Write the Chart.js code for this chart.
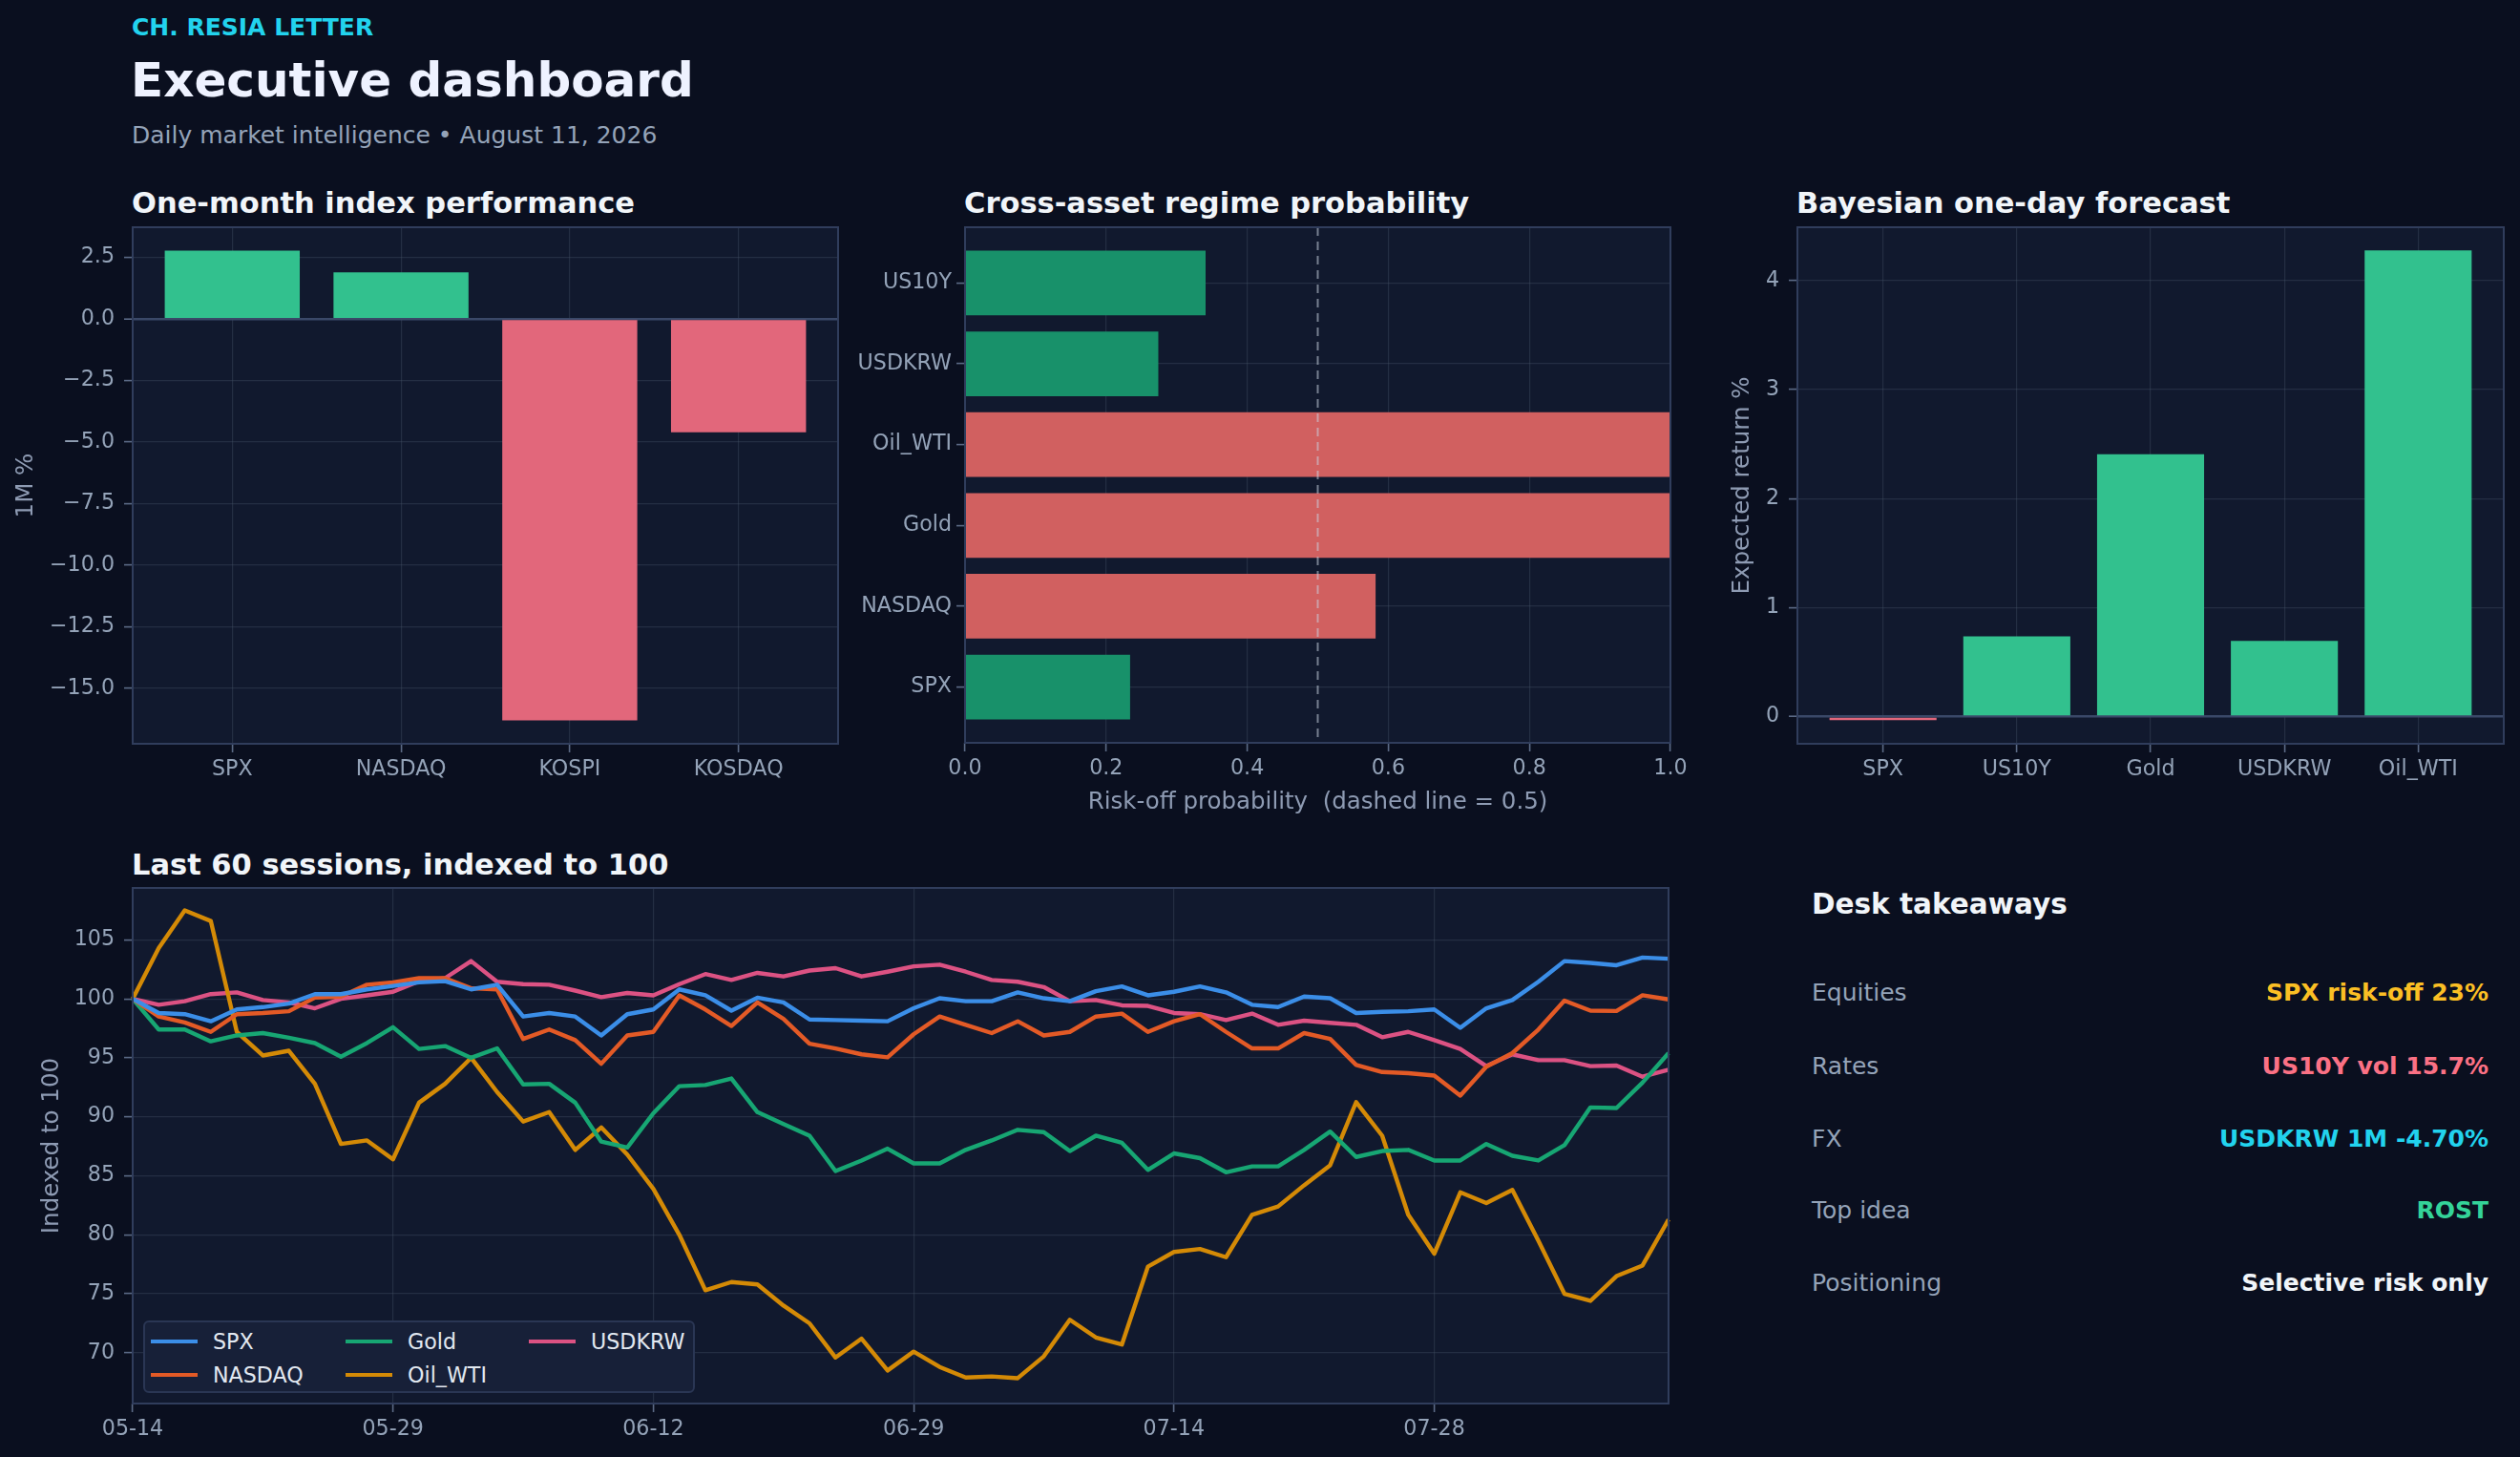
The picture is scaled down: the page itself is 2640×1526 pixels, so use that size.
<!DOCTYPE html>
<html>
<head>
<meta charset="utf-8">
<title>Executive dashboard</title>
<script src="https://cdn.jsdelivr.net/npm/chart.js@4.4.1/dist/chart.umd.min.js"></script>
<style>
  html, body { margin: 0; padding: 0; background: #0a0f1f; }
  body { width: 2640px; height: 1526px; position: relative; overflow: hidden; font-family: "DejaVu Sans", sans-serif; }
  .txt { position: absolute; white-space: nowrap; line-height: 1; }
  .box { position: absolute; }
  .kicker { left: 138px; top: 16px; font-size: 25px; font-weight: bold; color: #22d3ee; }
  .h1 { left: 137px; top: 59px; font-size: 50px; font-weight: bold; color: #eef2ff; }
  .sub { left: 138px; top: 129px; font-size: 25px; color: #94a3b8; }
  .ctitle { font-size: 30.5px; font-weight: bold; color: #f1f5f9; }
  .dtitle { left: 1898px; top: 933px; font-size: 29.5px; font-weight: bold; color: #f1f5f9; }
  .rlabel { left: 1898px; font-size: 25px; color: #94a3b8; }
  .rvalue { right: 33px; font-size: 25px; font-weight: bold; }
  #legend { position: absolute; left: 150px; top: 1383px; width: 574px; height: 72px;
            background: #172038; border: 2px solid #2a3654; border-radius: 6px; }
  .li { position: absolute; height: 26px; font-size: 22.2px; color: #e2e8f0; line-height: 26px; }
  .li span.sw { position: absolute; left: 0; top: 11px; width: 49px; height: 4px; }
  .li span.tx { position: absolute; left: 65px; top: 0; white-space: nowrap; }
</style>
</head>
<body>

<div class="txt kicker">CH. RESIA LETTER</div>
<div class="txt h1">Executive dashboard</div>
<div class="txt sub">Daily market intelligence • August 11, 2026</div>

<div class="txt ctitle" style="left:138px;top:198px;">One-month index performance</div>
<div class="txt ctitle" style="left:1010px;top:198px;">Cross-asset regime probability</div>
<div class="txt ctitle" style="left:1882px;top:198px;">Bayesian one-day forecast</div>
<div class="txt ctitle" style="left:138px;top:891px;">Last 60 sessions, indexed to 100</div>

<div class="box" style="left:0px;top:228px;width:898px;height:611px;"><canvas id="perf"></canvas></div>
<div class="box" style="left:880px;top:228px;width:894px;height:627px;"><canvas id="regime"></canvas></div>
<div class="box" style="left:1790px;top:228px;width:845px;height:611px;"><canvas id="forecast"></canvas></div>
<div class="box" style="left:0px;top:920px;width:1772px;height:606px;"><canvas id="history"></canvas></div>
<div id="legend"></div>

<div class="txt dtitle">Desk takeaways</div>
<div id="takeaways"></div>

<script>
// ---- data ----
var perfAssets = ["SPX", "NASDAQ", "KOSPI", "KOSDAQ"];
var perfValues = [2.78, 1.90, -16.31, -4.60];

var regimeAssets = ["SPX", "NASDAQ", "Gold", "Oil_WTI", "USDKRW", "US10Y"];
var regimeProb = [0.234, 0.582, 1.0, 1.0, 0.274, 0.341];

var forecastAssets = ["SPX", "US10Y", "Gold", "USDKRW", "Oil_WTI"];
var forecastValues = [-0.034, 0.736, 2.406, 0.694, 4.278];

var sessionDates = [
  "05-14","05-15","05-18","05-19","05-20","05-21","05-22","05-26","05-27","05-28",
  "05-29","06-01","06-02","06-03","06-04","06-05","06-08","06-09","06-10","06-11",
  "06-12","06-15","06-16","06-17","06-18","06-22","06-23","06-24","06-25","06-26",
  "06-29","06-30","07-01","07-02","07-06","07-07","07-08","07-09","07-10","07-13",
  "07-14","07-15","07-16","07-17","07-20","07-21","07-22","07-23","07-24","07-27",
  "07-28","07-29","07-30","07-31","08-03","08-04","08-05","08-06","08-07","08-10"
];

var spxIdx = [
  100.0, 98.8, 98.7, 98.1, 99.1, 99.3, 99.6, 100.4, 100.4, 100.8,
  101.1, 101.4, 101.5, 100.8, 101.2, 98.5, 98.8, 98.5, 96.9, 98.7,
  99.1, 100.8, 100.3, 99.0, 100.1, 99.7, 98.25, 98.2, 98.15, 98.1,
  99.2, 100.05, 99.8, 99.8, 100.55, 100.05, 99.8, 100.65, 101.05, 100.3,
  100.6, 101.05, 100.55, 99.5, 99.3, 100.2, 100.05, 98.8, 98.9, 98.95,
  99.1, 97.55, 99.2, 99.9, 101.45, 103.2, 103.05, 102.85, 103.5, 103.4
];
var nasdaqIdx = [
  100.0, 98.5, 98.0, 97.2, 98.7, 98.8, 98.95, 100.1, 100.2, 101.2,
  101.4, 101.75, 101.75, 100.9, 100.8, 96.6, 97.4, 96.5, 94.5, 96.9,
  97.2, 100.3, 99.1, 97.7, 99.7, 98.3, 96.2, 95.8, 95.3, 95.05,
  97.0, 98.5, 97.8, 97.1, 98.1, 96.9, 97.2, 98.5, 98.75, 97.2,
  98.1, 98.7, 97.2, 95.8, 95.8, 97.1, 96.6, 94.4, 93.8, 93.7,
  93.5, 91.8, 94.25, 95.4, 97.4, 99.85, 99.0, 98.97, 100.3, 99.95
];
var goldIdx = [
  100.0, 97.4, 97.4, 96.4, 96.9, 97.1, 96.7, 96.25, 95.1, 96.25,
  97.6, 95.75, 96.0, 95.0, 95.8, 92.75, 92.8, 91.2, 87.9, 87.4,
  90.3, 92.6, 92.7, 93.25, 90.4, 89.4, 88.4, 85.4, 86.3, 87.3,
  86.05, 86.05, 87.2, 88.0, 88.9, 88.7, 87.1, 88.4, 87.8, 85.5,
  86.9, 86.5, 85.3, 85.8, 85.8, 87.2, 88.75, 86.6, 87.1, 87.2,
  86.3, 86.3, 87.7, 86.7, 86.3, 87.6, 90.8, 90.75, 92.9, 95.4
];
var oilIdx = [
  100.0, 104.3, 107.5, 106.6, 97.2, 95.2, 95.6, 92.8, 87.7, 88.0,
  86.4, 91.2, 92.8, 95.0, 92.1, 89.6, 90.4, 87.2, 89.1, 86.8,
  83.9, 80.0, 75.3, 76.0, 75.8, 74.0, 72.5, 69.6, 71.2, 68.5,
  70.1, 68.8, 67.9, 68.0, 67.85, 69.7, 72.8, 71.3, 70.7, 77.3,
  78.55, 78.8, 78.1, 81.7, 82.4, 84.2, 85.9, 91.25, 88.4, 81.7,
  78.4, 83.6, 82.7, 83.8, 79.5, 75.0, 74.4, 76.5, 77.4, 81.3
];
var usdkrwIdx = [
  100.0, 99.5, 99.8, 100.4, 100.55, 99.9, 99.7, 99.2, 100.0, 100.3,
  100.6, 101.5, 101.75, 103.2, 101.45, 101.25, 101.2, 100.7, 100.15, 100.5,
  100.3, 101.25, 102.1, 101.6, 102.2, 101.9, 102.4, 102.6, 101.9, 102.3,
  102.75, 102.9, 102.3, 101.6, 101.45, 101.0, 99.8, 99.9, 99.45, 99.4,
  98.8, 98.7, 98.2, 98.75, 97.8, 98.15, 97.97, 97.8, 96.75, 97.2,
  96.5, 95.75, 94.3, 95.3, 94.8, 94.8, 94.3, 94.35, 93.4, 94.0
];

var takeawayLabels = ["Equities", "Rates", "FX", "Top idea", "Positioning"];
var takeawayValues = ["SPX risk-off 23%", "US10Y vol 15.7%", "USDKRW 1M -4.70%", "ROST", "Selective risk only"];

// ---- styles ----
var PLOT_BG = "#11192e";
var FRAME = "#303d5c";
var GRID = "rgba(71,85,105,0.35)";
var ZERO = "#3a4868";
var TICK = "#5b6a86";
var TICK_TXT = "#94a3b8";
var AXIS_TXT = "#8e9bb3";
var UP = "#32c18e", DOWN = "#e2677b";
var CALM = "#18916a", STRESS = "#d16060";
var lineColors = ["#3b8ee8", "#e35a26", "#17a673", "#d48a06", "#dc5283"];
var takeawayColors = ["#fbbf24", "#fb7185", "#22d3ee", "#34d399", "#f1f5f9"];

Chart.defaults.font.family = "DejaVu Sans";
Chart.defaults.color = TICK_TXT;
Chart.defaults.animation = false;
Chart.defaults.devicePixelRatio = 1;

var tickFont = { family: "DejaVu Sans", size: 22.2 };
var titleFont = { family: "DejaVu Sans", size: 24.5 };

var framePlugin = {
  id: "frame",
  beforeDraw: function (chart) {
    var a = chart.chartArea, c = chart.ctx;
    c.save();
    c.fillStyle = PLOT_BG;
    c.fillRect(a.left, a.top, a.right - a.left, a.bottom - a.top);
    c.restore();
  },
  afterDraw: function (chart) {
    var a = chart.chartArea, c = chart.ctx;
    c.save();
    c.strokeStyle = FRAME;
    c.lineWidth = 2;
    c.strokeRect(a.left, a.top, a.right - a.left, a.bottom - a.top);
    c.restore();
  }
};

var halfLine = {
  id: "halfLine",
  afterDatasetsDraw: function (chart) {
    var a = chart.chartArea, c = chart.ctx;
    var x = chart.scales.x.getPixelForValue(0.5);
    c.save();
    c.strokeStyle = "rgba(203,213,225,0.55)";
    c.lineWidth = 2;
    c.setLineDash([9, 6]);
    c.beginPath();
    c.moveTo(x, a.top);
    c.lineTo(x, a.bottom);
    c.stroke();
    c.restore();
  }
};

function fixSize(size) {
  return function (s) {
    if (s.isHorizontal()) s.height = size; else s.width = size;
    s.paddingLeft = 0; s.paddingRight = 0; s.paddingTop = 0; s.paddingBottom = 0;
  };
}

function isZero(ctx) { return ctx.tick && Math.abs(ctx.tick.value) < 1e-9; }

function gridOpts(zeroLine) {
  return {
    offset: false,
    color: function (ctx) { return zeroLine && isZero(ctx) ? ZERO : GRID; },
    lineWidth: function (ctx) { return zeroLine && isZero(ctx) ? 2.4 : 1.2; },
    tickColor: TICK,
    tickWidth: 1.6,
    tickLength: 9,
    drawTicks: true
  };
}

function minus(s) { return s.charAt(0) === "-" ? "\u2212" + s.slice(1) : s; }

function categoryTicks(names) {
  return {
    stepSize: 1, includeBounds: false, autoSkip: false, maxRotation: 0,
    font: tickFont, color: TICK_TXT, padding: 5,
    callback: function (v) { return names[v] !== undefined ? names[v] : ""; }
  };
}

// ---- chart 1: one-month performance ----
new Chart(document.getElementById("perf"), {
  type: "bar",
  data: {
    datasets: [{
      data: perfValues.map(function (v, i) { return { x: i, y: v }; }),
      backgroundColor: perfValues.map(function (v) { return v >= 0 ? UP : DOWN; }),
      barPercentage: 0.8, categoryPercentage: 1.0, borderWidth: 0
    }]
  },
  options: {
    responsive: true, maintainAspectRatio: false,
    layout: { padding: { top: 10, right: 20, left: 0, bottom: 0 } },
    plugins: { legend: { display: false }, tooltip: { enabled: false } },
    scales: {
      x: {
        type: "linear", min: -0.59, max: 3.59, z: 1, offset: false,
        grid: gridOpts(false), border: { display: false },
        ticks: categoryTicks(perfAssets),
        afterFit: fixSize(60)
      },
      y: {
        type: "linear", min: -17.26, max: 3.73, z: 1,
        grid: gridOpts(true), border: { display: false },
        ticks: { stepSize: 2.5, includeBounds: false, font: tickFont, color: TICK_TXT, padding: 10,
                 callback: function (v) { return minus(v.toFixed(1)); } },
        title: { display: true, text: "1M %", color: AXIS_TXT, font: titleFont, padding: { top: 13, bottom: 0 } },
        afterFit: fixSize(139)
      }
    }
  },
  plugins: [framePlugin]
});

// ---- chart 2: regime probability ----
new Chart(document.getElementById("regime"), {
  type: "bar",
  data: {
    datasets: [{
      data: regimeProb.map(function (p, i) { return { x: p, y: i }; }),
      backgroundColor: regimeProb.map(function (p) { return p > 0.5 ? STRESS : CALM; }),
      barPercentage: 0.8, categoryPercentage: 1.0, borderWidth: 0
    }]
  },
  options: {
    indexAxis: "y",
    responsive: true, maintainAspectRatio: false,
    layout: { padding: { top: 10, right: 24, left: 0, bottom: 0 } },
    plugins: { legend: { display: false }, tooltip: { enabled: false } },
    scales: {
      x: {
        type: "linear", min: 0, max: 1, z: 1, offset: false,
        grid: gridOpts(false), border: { display: false },
        ticks: { stepSize: 0.2, font: tickFont, color: TICK_TXT, padding: 5, maxRotation: 0,
                 callback: function (v) { return v.toFixed(1); } },
        title: { display: true, text: "Risk-off probability  (dashed line = 0.5)", color: AXIS_TXT,
                 font: titleFont, padding: { top: 0, bottom: 0 } },
        afterFit: fixSize(77)
      },
      y: {
        type: "linear", min: -0.69, max: 5.69, z: 1, offset: false,
        grid: gridOpts(false), border: { display: false },
        ticks: categoryTicks(regimeAssets),
        afterFit: fixSize(131)
      }
    }
  },
  plugins: [framePlugin, halfLine]
});
</script>
<script>
// ---- chart 3: one-day forecast ----
new Chart(document.getElementById("forecast"), {
  type: "bar",
  data: {
    datasets: [{
      data: forecastValues.map(function (v, i) { return { x: i, y: v }; }),
      backgroundColor: forecastValues.map(function (v) { return v >= 0 ? UP : DOWN; }),
      barPercentage: 0.8, categoryPercentage: 1.0, borderWidth: 0
    }]
  },
  options: {
    responsive: true, maintainAspectRatio: false,
    layout: { padding: { top: 10, right: 12, left: 0, bottom: 0 } },
    plugins: { legend: { display: false }, tooltip: { enabled: false } },
    scales: {
      x: {
        type: "linear", min: -0.64, max: 4.64, z: 1, offset: false,
        grid: gridOpts(false), border: { display: false },
        ticks: categoryTicks(forecastAssets),
        afterFit: fixSize(60)
      },
      y: {
        type: "linear", min: -0.25, max: 4.49, z: 1,
        grid: gridOpts(true), border: { display: false },
        ticks: { stepSize: 1, includeBounds: false, font: tickFont, color: TICK_TXT, padding: 10,
                 callback: function (v) { return String(v); } },
        title: { display: true, text: "Expected return %", color: AXIS_TXT, font: titleFont, padding: { top: 21, bottom: 0 } },
        afterFit: fixSize(93)
      }
    }
  },
  plugins: [framePlugin]
});

// ---- chart 4: 60-session history ----
var seriesNames = ["SPX", "NASDAQ", "Gold", "Oil_WTI", "USDKRW"];
var seriesValues = [spxIdx, nasdaqIdx, goldIdx, oilIdx, usdkrwIdx];

new Chart(document.getElementById("history"), {
  type: "line",
  data: {
    labels: sessionDates,
    datasets: seriesNames.map(function (name, k) {
      return {
        label: name, data: seriesValues[k],
        borderColor: lineColors[k], backgroundColor: lineColors[k],
        borderWidth: 4.4, pointRadius: 0, tension: 0, fill: false,
        borderJoinStyle: "round", borderCapStyle: "butt"
      };
    })
  },
  options: {
    responsive: true, maintainAspectRatio: false,
    layout: { padding: { top: 10, right: 24, left: 0, bottom: 0 } },
    plugins: { legend: { display: false }, tooltip: { enabled: false } },
    scales: {
      x: {
        type: "category", offset: false,
        grid: gridOpts(false), border: { display: false },
        ticks: { autoSkip: false, maxRotation: 0, font: tickFont, color: TICK_TXT, padding: 5,
                 callback: function (v, i) { return i % 10 === 0 ? this.getLabelForValue(v) : null; } },
        afterFit: fixSize(56)
      },
      y: {
        type: "linear", min: 65.7, max: 109.4,
        grid: gridOpts(false), border: { display: false },
        ticks: { stepSize: 5, includeBounds: false, font: tickFont, color: TICK_TXT, padding: 10,
                 callback: function (v) { return String(v); } },
        title: { display: true, text: "Indexed to 100", color: AXIS_TXT, font: titleFont, padding: { top: 40, bottom: 0 } },
        afterFit: fixSize(139)
      }
    }
  },
  plugins: [framePlugin]
});

// legend: two rows, filled column by column
var legend = document.getElementById("legend");
var colX = [6, 210, 402];
var rowY = [7, 41.5];
seriesNames.forEach(function (name, k) {
  var col = Math.floor(k / 2), row = k % 2;
  var el = document.createElement("div");
  el.className = "li";
  el.style.left = colX[col] + "px";
  el.style.top = rowY[row] + "px";
  el.innerHTML = '<span class="sw" style="background:' + lineColors[k] + '"></span><span class="tx">' + name + "</span>";
  legend.appendChild(el);
});

// takeaways panel
var box = document.getElementById("takeaways");
var rowTops = [1027, 1104, 1180, 1255, 1330.5];
takeawayLabels.forEach(function (lab, i) {
  var l = document.createElement("div");
  l.className = "txt rlabel";
  l.style.top = rowTops[i] + "px";
  l.textContent = lab;
  box.appendChild(l);
  var v = document.createElement("div");
  v.className = "txt rvalue";
  v.style.top = rowTops[i] + "px";
  v.style.color = takeawayColors[i];
  v.textContent = takeawayValues[i];
  box.appendChild(v);
});
</script>
</body>
</html>
